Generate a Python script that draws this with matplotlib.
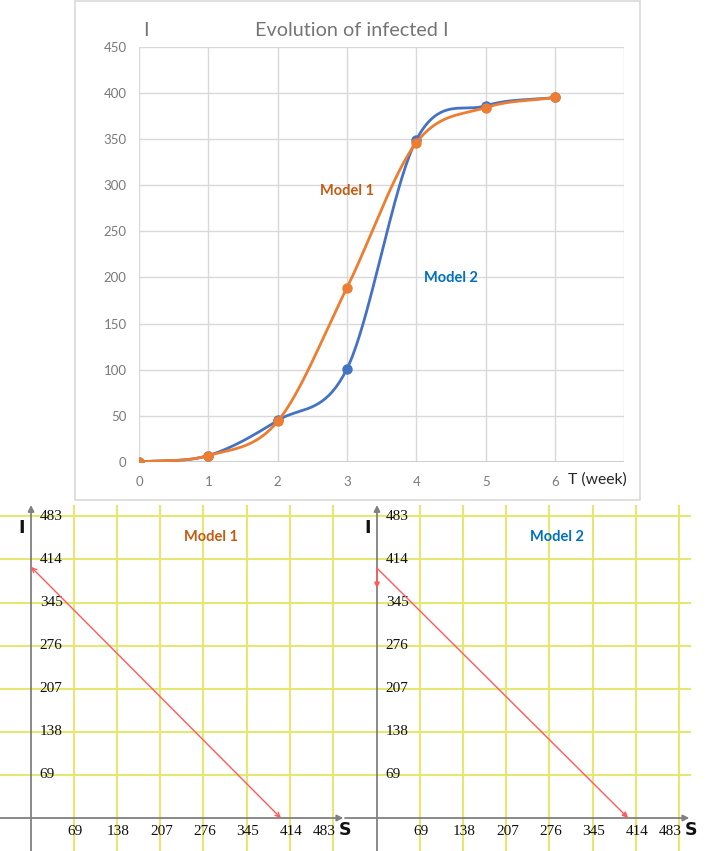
import matplotlib
matplotlib.use("Agg")
import matplotlib.pyplot as plt
from matplotlib.patches import Rectangle
import numpy as np

# ---- data: evolution of infected I (top chart) ----
weeks = [0, 1, 2, 3, 4, 5, 6]
model1_I = [0, 7, 44, 189, 346, 384, 395]
model2_I = [0, 7, 45, 101, 349, 386, 395]
top_yticks = [0, 50, 100, 150, 200, 250, 300, 350, 400, 450]

# ---- data: S-I phase plots (bottom panels) ----
grid_vals = [69, 138, 207, 276, 345, 414, 483]
m1_S = [400, 0]
m1_I = [0, 402]
m2_S = [0, 402]
m2_I = [400, 0]
m2_drop_I = [400, 368]     # short arrow down the I axis for model 2

BLUE = "#4472C4"
ORANGE = "#ED7D31"
GRID_YEL = "#E6E672"
RED = "#FF5A5A"
W, H = 714, 851


def catmull(x, y, n=40):
    # Excel-style "smoothed line" between the data points
    x = np.asarray(x, float); y = np.asarray(y, float)
    px = np.concatenate([[2 * x[0] - x[1]], x, [2 * x[-1] - x[-2]]])
    py = np.concatenate([[2 * y[0] - y[1]], y, [2 * y[-1] - y[-2]]])
    t = np.linspace(0, 1, n)
    xs, ys = [], []
    for i in range(1, len(px) - 2):
        for p, out in ((px, xs), (py, ys)):
            p0, p1, p2, p3 = p[i - 1], p[i], p[i + 1], p[i + 2]
            out.append(0.5 * (2 * p1 + (-p0 + p2) * t
                              + (2 * p0 - 5 * p1 + 4 * p2 - p3) * t ** 2
                              + (-p0 + 3 * p1 - 3 * p2 + p3) * t ** 3))
    return np.concatenate(xs), np.concatenate(ys)


def px_axes(x0, y0, x1, y1):
    return fig.add_axes([x0 / W, 1 - y1 / H, (x1 - x0) / W, (y1 - y0) / H])


fig = plt.figure(figsize=(W / 100, H / 100), dpi=100)
fig.patches.append(Rectangle((75 / W, 1 - 500 / H), 565 / W, 499 / H,
                             transform=fig.transFigure, fill=False,
                             ec="#D9D9D9", lw=1.2))

# ---- top: evolution of infected ----
ax = px_axes(139, 46.7, 624.3, 462)
xs, ys = catmull(weeks, model2_I)
ax.plot(xs, ys, color=BLUE, lw=2.0, zorder=3)
ax.plot(weeks, model2_I, "o", color=BLUE, ms=6.5, zorder=3)
xs, ys = catmull(weeks, model1_I)
ax.plot(xs, ys, color=ORANGE, lw=2.0, zorder=4)
ax.plot(weeks, model1_I, "o", color=ORANGE, ms=6.5, zorder=4)
ax.set_xlim(0, 7)
ax.set_ylim(0, 450)
ax.set_xticks(range(8))
ax.set_xticklabels([str(w) for w in weeks] + [""])
ax.set_yticks(top_yticks)
ax.grid(True, color="#D9D9D9", lw=1.0)
ax.set_axisbelow(True)
for sp in ax.spines.values():
    sp.set_visible(False)
ax.axhline(0, color="#C8C8C8", lw=1.2, zorder=2)
ax.tick_params(length=0, labelsize=9.5, labelcolor="#7A7A7A", pad=10)
ax.tick_params(axis="y", pad=9)
for lab in ax.get_xticklabels() + ax.get_yticklabels():
    lab.set_family("Lato")
ax.text(7.04, -19, "T (week)", ha="right", va="center", fontsize=11.3,
        color="#262626", family="Lato", clip_on=False)
fig.text(352 / W, 1 - 31 / H, "Evolution of infected I", ha="center", va="center",
         fontsize=14.3, color="#757575", family="Lato")
fig.text(146 / W, 1 - 31 / H, "I", ha="center", va="center",
         fontsize=14.3, color="#757575", family="Lato")
ax.text(3.0, 294, "Model 1", color="#C55A11", fontsize=10.5, weight="bold",
        ha="center", va="center", family="Lato")
ax.text(4.5, 199, "Model 2", color="#0070C0", fontsize=10.5, weight="bold",
        ha="center", va="center", family="Lato")

# ---- bottom: phase plots ----
k = 43.1 / 69  # pixels per unit


def phase(x0, x1, yaxis_px, title, tcolor):
    a = px_axes(x0, 505, x1, 851)
    a.set_facecolor("none")
    a.set_xlim((x0 - yaxis_px) / k, (x1 - yaxis_px) / k)
    a.set_ylim(-(851 - 818) / k, (818 - 505) / k)
    a.axis("off")
    xl = a.get_xlim(); yl = a.get_ylim()
    for v in grid_vals:
        a.plot([v, v], yl, color=GRID_YEL, lw=1.5, zorder=1)
        a.plot([xl[0], 501], [v, v], color=GRID_YEL, lw=1.5, zorder=1)
    # axes with arrows
    a.annotate("", xy=(500, 0), xytext=(xl[0], 0),
               arrowprops=dict(arrowstyle="-|>", color="#808080", lw=1.3,
                               mutation_scale=9, shrinkA=0, shrinkB=0), zorder=2)
    a.annotate("", xy=(0, yl[1]), xytext=(0, yl[0]),
               arrowprops=dict(arrowstyle="-|>", color="#808080", lw=1.3,
                               mutation_scale=9, shrinkA=0, shrinkB=0), zorder=2)
    for v in grid_vals:
        a.text(14, v, str(v), ha="left", va="center", fontsize=11,
               family="Liberation Serif", color="#111111", zorder=3)
        xv = v if v != 483 else 468
        a.text(xv + 2, -22, str(v), ha="center", va="center", fontsize=11,
               family="Liberation Serif", color="#111111", zorder=3)
    a.text(503, -19, "S", ha="center", va="center", fontsize=12.5,
           weight="bold", color="#111111", clip_on=False)
    a.text(-15, 465, "I", ha="center", va="center", fontsize=12.5,
           weight="bold", color="#111111")
    a.text(288, 450, title, ha="center", va="center", fontsize=10.5,
           weight="bold", color=tcolor, family="Lato")
    return a


axL = phase(0, 345, 31, "Model 1", "#C55A11")
axL.annotate("", xy=(m1_S[1], m1_I[1]), xytext=(m1_S[0], m1_I[0]),
             arrowprops=dict(arrowstyle="<->", color=RED, lw=1.0,
                             mutation_scale=8, shrinkA=0, shrinkB=0), zorder=4)

axR = phase(345, 714, 377, "Model 2", "#0070C0")
axR.annotate("", xy=(m2_S[1], m2_I[1]), xytext=(m2_S[0], m2_I[0]),
             arrowprops=dict(arrowstyle="-|>", color=RED, lw=1.0,
                             mutation_scale=8, shrinkA=0, shrinkB=0), zorder=4)
axR.annotate("", xy=(0, m2_drop_I[1]), xytext=(0, m2_drop_I[0]),
             arrowprops=dict(arrowstyle="-|>", color=RED, lw=1.0,
                             mutation_scale=8, shrinkA=0, shrinkB=0), zorder=4)

fig.savefig("out.png", dpi=100, facecolor="white")
